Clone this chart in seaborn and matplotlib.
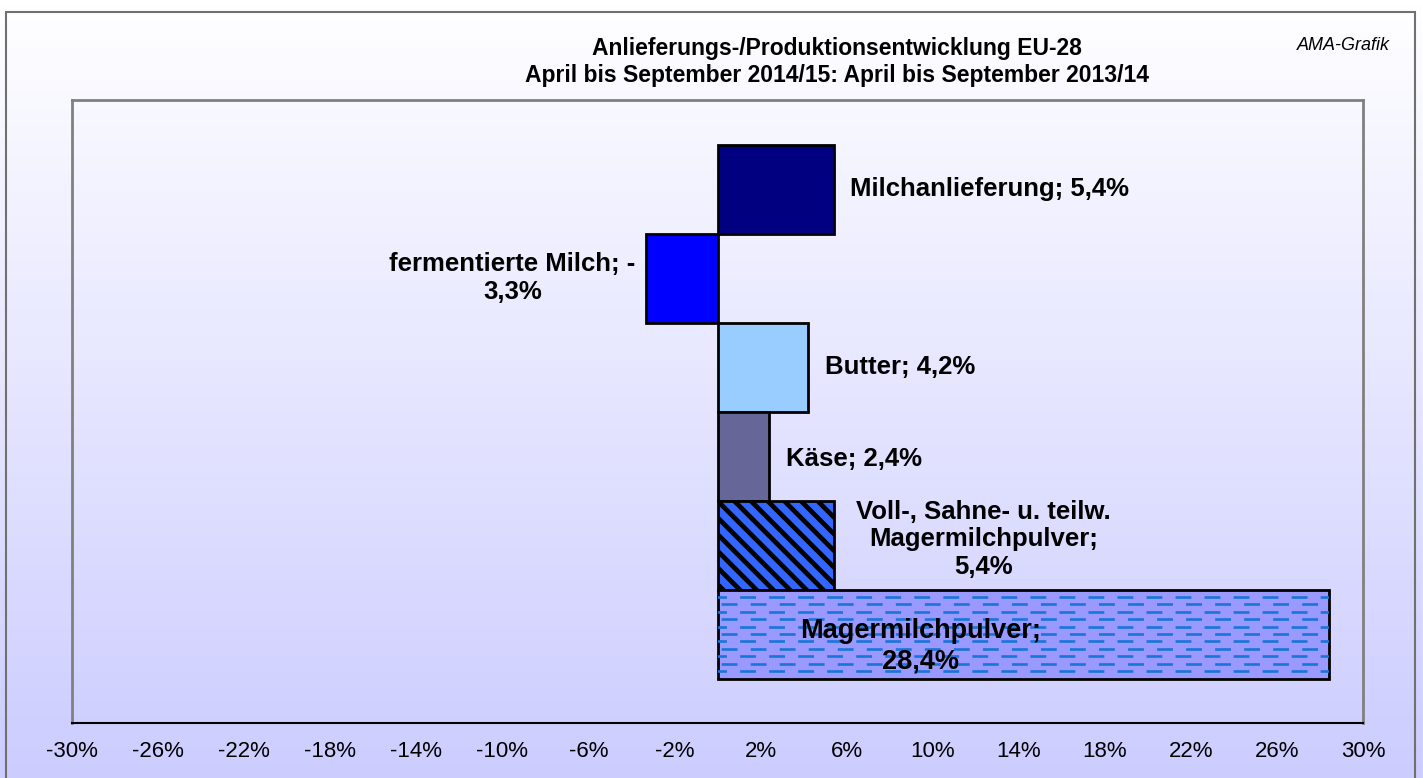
import numpy as np
import pandas as pd
import seaborn as sns
import matplotlib.pyplot as plt
from matplotlib.colors import LinearSegmentedColormap
from matplotlib.patches import Rectangle

# data
categories = ["Milchanlieferung", "fermentierte Milch", "Butter", "Käse",
              "Voll-, Sahne- u. teilw. Magermilchpulver", "Magermilchpulver"]
changes = [5.4, -3.3, 4.2, 2.4, 5.4, 28.4]
bar_labels = ["Milchanlieferung; 5,4%",
              "fermentierte Milch; -\n3,3%",
              "Butter; 4,2%",
              "Käse; 2,4%",
              "Voll-, Sahne- u. teilw.\nMagermilchpulver;\n5,4%",
              "Magermilchpulver;\n28,4%"]
bar_colors = ["#000080", "#0000ff", "#99ccff", "#666699", "#3366ff", "#9999ff"]
x_ticks = list(range(-30, 31, 4))
tick_labels = [f"{t}%" for t in x_ticks]
title = "Anlieferungs-/Produktionsentwicklung EU-28\nApril bis September 2014/15: April bis September 2013/14"

sns.set_style("white")
plt.rcParams["font.family"] = ["Liberation Sans", "DejaVu Sans"]
plt.rcParams["text.color"] = "black"
plt.rcParams["xtick.color"] = "black"
plt.rcParams["hatch.linewidth"] = 3.4

W, H = 1423, 778
fig = plt.figure(figsize=(W / 100, H / 100), dpi=100)

# gradient background (white -> lavender)
bg = fig.add_axes([0, 0, 1, 1], zorder=-10)
grad = np.linspace(0, 1, 256).reshape(-1, 1)
cmap = LinearSegmentedColormap.from_list("bg", ["#ffffff", "#ccccff"])
bg.imshow(grad, aspect="auto", cmap=cmap, extent=[0, 1, 0, 1])
bg.axis("off")

# outer frame
fig.patches.append(Rectangle((6 / W, -0.02), (1415 - 6) / W, 1 - 12 / H + 0.02,
                             transform=fig.transFigure, fill=False,
                             edgecolor="#707070", lw=1.5))

ax = fig.add_axes([72 / W, 1 - 723 / H, (1363 - 72) / W, (723 - 100) / H])
ax.set_facecolor("none")

df = pd.DataFrame({"Kategorie": categories, "Veraenderung": changes})
sns.barplot(data=df, x="Veraenderung", y="Kategorie", hue="Kategorie",
            palette=bar_colors, saturation=1, width=1.0, legend=False, ax=ax,
            edgecolor="black", linewidth=2)

bars = ax.patches
bars[4].set_hatch("\\\\")

# dashed horizontal fill for the Magermilchpulver bar
mp = bars[5]
ax.set_xlim(-30, 30)
rows = mp.get_y() + mp.get_height() * np.linspace(0, 1, 13)[1:-1]
for k, off in enumerate([0, 7]):
    lc = ax.hlines(rows[k::2], -30, 30, colors="#1a75d9", linewidth=1.9,
                   linestyles=[(off, (6, 5))], zorder=3)
    lc.set_clip_path(mp)

# value labels
lab_kw = dict(textcoords="offset points", fontsize=18.5, fontweight="bold",
              va="center", multialignment="center", color="black")
offsets = [(12, 0), (-8, 0), (12, 0), (12, -2), (16, 4)]
for i in range(5):
    v = changes[i]
    ax.annotate(bar_labels[i], xy=(v, i), xytext=offsets[i],
                ha="left" if v > 0 else "right", **lab_kw)
lab_kw["fontsize"] = 19.5
ax.annotate(bar_labels[5], xy=(changes[5] / 2, 5), xytext=(-74, -9),
            ha="center", zorder=5, **lab_kw)

ax.set_ylim(6.0, -1.0)
ax.set_yticks([])
ax.set_xticks(x_ticks)
ax.set_xticklabels(tick_labels, fontsize=16)
ax.tick_params(axis="x", length=6, width=1, color="#808080", labelcolor="black",
               direction="out", pad=7)
ax.set_xlabel("")
ax.set_ylabel("")
for s in ["top", "left", "right"]:
    ax.spines[s].set_color("#808080")
    ax.spines[s].set_linewidth(2)
ax.spines["bottom"].set_color("black")
ax.spines["bottom"].set_linewidth(1.5)

fig.text(837 / W, 1 - 62 / H, title, ha="center", va="center",
         fontsize=16.5, fontweight="bold", linespacing=1.25)
fig.text(1390 / W, 1 - 45 / H, "AMA-Grafik", ha="right", va="center",
         fontsize=13, style="italic")

fig.savefig("out.png", dpi=100)
